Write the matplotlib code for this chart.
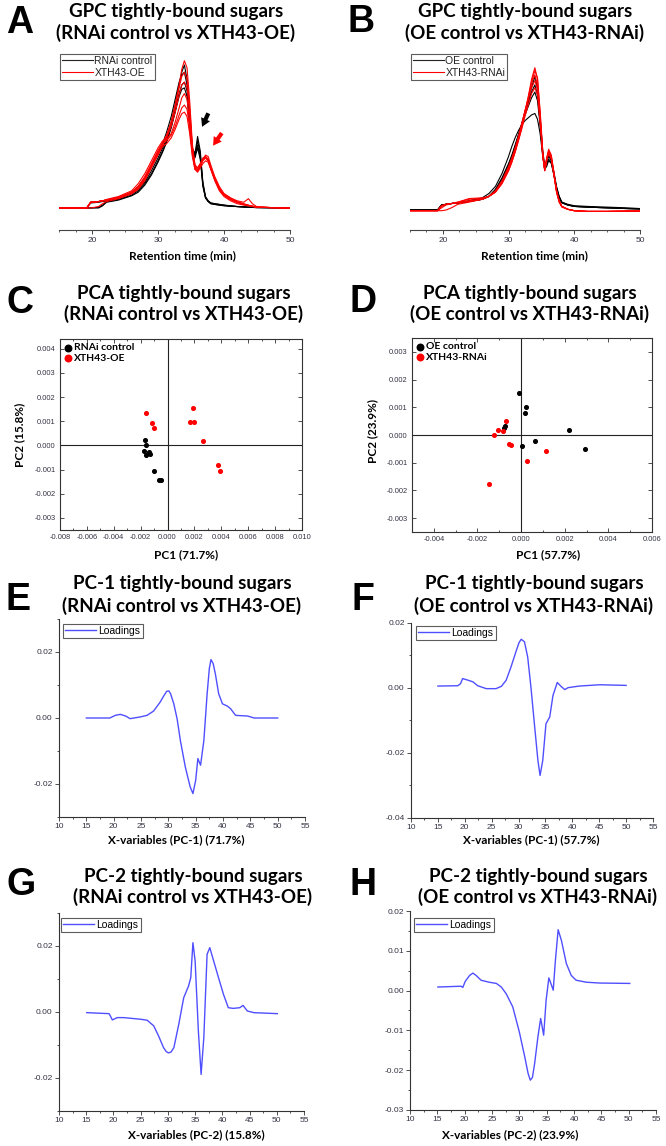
import numpy as np
import matplotlib.pyplot as plt
from matplotlib.ticker import MultipleLocator, FormatStrFormatter

plt.rcParams['axes.unicode_minus'] = False

# ---- GPC traces (normalised detector signal) ----
xA = [15, 19.2, 19.8, 21.0, 21.6, 22.2, 24, 26, 27, 28, 29, 30, 30.7, 31.3, 32, 32.6,
      33.2, 33.6, 34.0, 34.4, 34.8, 35.2, 35.6, 36.0, 36.4, 36.8, 37.2, 37.6, 38.0,
      38.6, 39.3, 40, 41, 42, 43, 43.7, 44.3, 45, 47, 50]
rnai_ctrl = [
    [0, 0, .04, .045, .05, .055, .07, .10, .13, .18, .26, .35, .42, .49, .60, .72, .86, .95, 1.0, .90,
     .65, .42, .38, .50, .40, .18, .08, .05, .035, .03, .025, .02, .015, .01, .008, .005, .004, .003, .002, 0],
    [0, 0, 0, .005, .02, .045, .06, .09, .12, .17, .24, .33, .40, .47, .57, .68, .80, .86, .88, .82,
     .60, .40, .36, .47, .38, .16, .07, .045, .03, .025, .02, .017, .012, .01, .007, .005, .004, .003, .002, 0],
    [0, 0, .035, .04, .045, .05, .07, .11, .15, .21, .29, .38, .45, .53, .64, .76, .88, .93, .95, .86,
     .62, .41, .37, .44, .36, .17, .075, .05, .035, .03, .025, .02, .015, .01, .008, .005, .004, .003, .002, 0],
    [0, 0, 0, 0, .015, .04, .055, .085, .11, .16, .23, .32, .39, .46, .56, .67, .78, .83, .84, .78,
     .58, .39, .35, .42, .34, .15, .07, .045, .03, .025, .02, .015, .012, .01, .007, .005, .004, .003, .002, 0],
]
xth43_oe = [
    [0, 0, .04, .045, .05, .055, .07, .10, .13, .19, .28, .37, .44, .50, .60, .72, .86, .97, 1.03, .98,
     .75, .45, .30, .28, .31, .34, .35, .33, .27, .19, .12, .08, .05, .03, .02, .015, .01, .005, .003, 0],
    [0, 0, .04, .045, .05, .055, .075, .11, .15, .21, .30, .40, .46, .51, .60, .71, .84, .92, .95, .90,
     .70, .43, .29, .27, .30, .34, .36, .34, .28, .20, .13, .09, .06, .04, .025, .018, .012, .006, .003, 0],
    [0, 0, .04, .045, .05, .06, .08, .12, .17, .24, .33, .42, .47, .48, .52, .60, .70, .77, .80, .76,
     .60, .40, .28, .26, .29, .33, .35, .33, .28, .21, .14, .10, .07, .05, .04, .065, .03, .008, .003, 0],
    [0, 0, .04, .045, .05, .055, .075, .11, .15, .22, .31, .40, .45, .47, .51, .57, .65, .70, .72, .69,
     .56, .38, .27, .25, .28, .31, .33, .32, .27, .20, .13, .09, .06, .04, .025, .018, .012, .006, .003, 0],
    [0, 0, 0, .01, .03, .045, .065, .10, .14, .20, .29, .38, .43, .45, .49, .55, .62, .66, .67, .64,
     .52, .36, .27, .26, .29, .34, .37, .36, .30, .22, .15, .10, .07, .045, .03, .02, .013, .006, .003, 0],
    [0, 0, .04, .045, .05, .055, .07, .10, .14, .20, .29, .38, .44, .49, .57, .67, .79, .86, .88, .84,
     .66, .42, .30, .28, .31, .35, .36, .34, .28, .20, .13, .09, .06, .04, .025, .018, .012, .006, .003, 0],
]

xB = [15, 19.2, 19.8, 20.5, 21.3, 22.3, 24, 26, 27, 28, 29, 30, 30.5, 31, 31.5, 32, 32.5, 33,
      33.5, 34.0, 34.4, 34.8, 35.2, 35.5, 35.8, 36.1, 36.5, 36.9, 37.3, 37.7, 38.1, 39, 40,
      42, 45, 48, 50]
oe_ctrl = [
    [.005, .005, .04, .045, .05, .055, .065, .08, .10, .14, .21, .31, .37, .44, .52, .60, .68, .77, .86,
     .94, .85, .65, .42, .31, .35, .39, .36, .27, .17, .10, .06, .04, .03, .025, .02, .015, .012],
    [.005, .005, .04, .045, .05, .055, .07, .09, .12, .17, .26, .38, .45, .51, .56, .60, .63, .65, .67,
     .68, .64, .54, .38, .29, .31, .35, .33, .25, .16, .10, .06, .045, .035, .03, .025, .02, .015],
    [.005, .005, .035, .045, .05, .055, .065, .08, .10, .145, .22, .32, .38, .45, .53, .61, .69, .76, .83,
     .88, .81, .62, .40, .30, .34, .38, .35, .26, .16, .09, .055, .04, .03, .025, .02, .015, .012],
    [.005, .005, .04, .045, .05, .055, .065, .08, .10, .15, .23, .33, .39, .46, .53, .60, .67, .73, .79,
     .83, .77, .60, .39, .29, .33, .36, .34, .25, .15, .09, .055, .04, .03, .025, .02, .015, .012],
]
xth43_rnai = [
    [0, 0, .03, .045, .05, .06, .08, .085, .10, .13, .20, .29, .35, .42, .50, .59, .69, .80, .92,
     1.0, .92, .68, .40, .28, .36, .42, .38, .26, .14, .07, .03, .01, 0, -.005, -.005, -.003, -.003],
    [0, 0, 0, .005, .02, .045, .06, .08, .10, .135, .20, .30, .36, .43, .51, .60, .70, .79, .89,
     .95, .88, .65, .39, .28, .35, .41, .37, .25, .13, .06, .025, .01, 0, -.005, -.005, -.003, -.003],
    [0, 0, .035, .045, .05, .055, .07, .08, .10, .14, .21, .31, .37, .44, .52, .61, .70, .78, .86,
     .91, .85, .64, .39, .29, .36, .41, .37, .26, .14, .07, .03, .01, 0, -.005, -.005, -.003, -.003],
    [0, 0, .035, .045, .05, .055, .065, .08, .10, .13, .19, .28, .34, .41, .49, .57, .66, .74, .82,
     .86, .81, .62, .38, .28, .35, .40, .36, .25, .13, .06, .03, .01, 0, -.005, -.005, -.003, -.003],
    [0, 0, .02, .04, .05, .06, .085, .09, .10, .13, .19, .28, .34, .41, .49, .58, .68, .78, .90,
     .98, .93, .70, .42, .30, .37, .43, .39, .27, .14, .07, .03, .01, 0, -.005, -.005, -.003, -.003],
]

# ---- PCA scores ----
c_ctrl_pc1 = [-0.00166, -0.00159, -0.00174, -0.00159, -0.00141, -0.00129, -0.00104, -0.00067, -0.0005]
c_ctrl_pc2 = [0.00021, 0.00003, -0.00025, -0.00039, -0.00029, -0.00034, -0.00107, -0.00142, -0.00145]
c_oe_pc1 = [-0.00161, -0.00117, -0.00099, 0.00189, 0.00169, 0.00199, 0.00263, 0.00375, 0.00387]
c_oe_pc2 = [0.00134, 0.00092, 0.00072, 0.00154, 0.00095, 0.00095, 0.00018, -0.00083, -0.00107]

d_ctrl_pc1 = [-0.00011, 0.00021, 0.0002, -0.00072, -0.00078, 0.00005, 0.00063, 0.00218, 0.00292]
d_ctrl_pc2 = [0.00152, 0.001, 0.0008, 0.00031, 0.00027, -0.00039, -0.0002, 0.00019, -0.00049]
d_rnai_pc1 = [-0.0007, -0.00104, -0.00084, -0.00124, -0.00055, -0.00047, 0.00027, 0.00116, -0.00147]
d_rnai_pc2 = [0.00051, 0.00019, 0.00016, -0.00001, -0.00031, -0.00035, -0.00093, -0.00057, -0.00177]

# ---- loadings ----
e_x = [15.0, 19.3, 20.3, 21.2, 22.2, 23.0, 24.8, 26.1, 27.3, 28.5, 29.2, 29.7, 30.1, 30.4, 31.0, 31.6,
       32.2, 33.1, 34.0, 34.5, 35.0, 35.4, 35.9, 36.5, 37.1, 37.5, 37.8, 38.2, 38.6, 39.2, 39.9,
       40.8, 41.4, 42.3, 44.5, 45.7, 50.0]
e_y = [0.0, 0.0, 0.0008, 0.0011, 0.0006, -0.0002, 0.0003, 0.0008, 0.0021, 0.0048, 0.0068, 0.0081,
       0.0082, 0.0074, 0.0043, -0.0002, -0.0068, -0.0148, -0.0209, -0.0229, -0.0189, -0.0123,
       -0.0143, -0.0068, 0.0074, 0.0150, 0.0177, 0.0165, 0.0134, 0.0074, 0.0043, 0.0036, 0.0028,
       0.0008, 0.0006, 0.0, 0.0]
f_x = [15.0, 18.7, 19.2, 19.6, 20.6, 21.5, 22.4, 24.0, 25.8, 26.8, 27.7, 28.6, 29.6, 30.1, 30.5,
       31.1, 31.7, 32.3, 33.0, 33.6, 34.0, 34.5, 35.1, 35.8, 36.4, 37.2, 37.9, 38.6, 39.2, 41.3,
       45.1, 50.0]
f_y = [0.0006, 0.0007, 0.0013, 0.0029, 0.0024, 0.0019, 0.0007, -0.0002, -0.0002, 0.0005, 0.0024,
       0.0065, 0.0116, 0.0140, 0.015, 0.0142, 0.0095, 0.0003, -0.012, -0.0223, -0.0269, -0.0223,
       -0.011, -0.0089, -0.0023, 0.0017, 0.0005, -0.0005, 0.0001, 0.0006, 0.001, 0.0008]
g_x = [15.1, 19.2, 19.8, 20.7, 21.9, 25.0, 26.2, 27.4, 28.3, 29.2, 29.7, 30.1, 30.6, 31.1, 32.0,
       32.9, 33.8, 34.2, 34.6, 35.0, 35.6, 36.1, 36.6, 37.2, 37.7, 38.4, 39.3, 40.2, 41.1, 42.0,
       43.2, 43.8, 44.6, 45.8, 50.1]
g_y = [-0.0002, -0.0005, -0.0024, -0.0017, -0.0017, -0.0022, -0.0025, -0.0042, -0.0073, -0.0108,
       -0.0120, -0.0124, -0.0121, -0.0108, -0.0037, 0.0043, 0.0079, 0.0104, 0.021, 0.0155, -0.0058,
       -0.0189, -0.0078, 0.0175, 0.0195, 0.0155, 0.0104, 0.0054, 0.0013, 0.0011, 0.0013, 0.002,
       0.0003, -0.0002, -0.0005]
h_x = [15.1, 19.35, 19.66, 20.1, 20.9, 21.5, 22.1, 23.0, 24.5, 25.8, 26.7, 27.6, 28.8, 30.0, 31.0,
       31.6, 32.0, 32.4, 32.8, 33.4, 33.9, 34.45, 34.9, 35.4, 35.9, 36.2, 36.6, 37.1, 37.7, 38.6,
       39.5, 40.4, 42.3, 44.7, 50.2]
h_y = [0.0009, 0.0011, 0.0008, 0.0023, 0.0038, 0.0044, 0.0038, 0.0026, 0.0021, 0.0018, 0.0009,
       -0.0008, -0.0041, -0.0104, -0.0167, -0.0208, -0.0225, -0.0218, -0.0183, -0.0116, -0.007,
       -0.0112, -0.0024, 0.0032, 0.0013, 0.0001, 0.0076, 0.0153, 0.0126, 0.0068, 0.0038, 0.0026,
       0.0021, 0.0019, 0.0018]

W, H = 666, 1146
fig = plt.figure(figsize=(W / 100, H / 100), dpi=100)

TFONT = 'Lato'
TICKC = '#333344'
BLUE = '#4f4fff'


def px_axes(l, t, r, b):
    return fig.add_axes([l / W, 1 - b / H, (r - l) / W, (b - t) / H])


def ftext(x, y, s, **kw):
    fig.text(x / W, 1 - y / H, s, **kw)


def header(letter, lx, ly, x, y1, y2, line1, line2):
    ftext(lx, ly, letter, fontsize=27, fontweight='bold', family='Liberation Sans', va='baseline')
    ftext(x, y1, line1, fontsize=13.5, fontweight='bold', family=TFONT, ha='center', va='baseline')
    ftext(x, y2, line2, fontsize=13.5, fontweight='bold', family=TFONT, ha='center', va='baseline')


def xlabel(x, y, s):
    ftext(x, y, s, fontsize=8.5, fontweight='bold', family=TFONT, ha='center', va='baseline')


def legend_at(ax, px_x, px_y, rect, **kw):
    l, t, r, b = rect
    return ax.legend(loc='upper left', bbox_to_anchor=((px_x - l) / (r - l), (b - px_y) / (b - t)),
                     borderaxespad=0, **kw)


def style_ticks(ax):
    for lab in ax.get_xticklabels() + ax.get_yticklabels():
        lab.set_family('Liberation Sans')
        lab.set_color(TICKC)


# ---- A / B: GPC traces ----
def gpc_panel(rect, x, ctrl, trt, ylim, names, arrows=False):
    ax = px_axes(*rect)
    for y in ctrl:
        ax.plot(x, y, color='black', lw=0.8)
    for y in trt:
        ax.plot(x, y, color='red', lw=0.8)
    ax.plot([], [], color='#222222', lw=0.8, label=names[0])
    ax.plot([], [], color='red', lw=0.8, label=names[1])
    ax.set_xlim(15, 50)
    ax.set_ylim(*ylim)
    for s in ['top', 'right', 'left']:
        ax.spines[s].set_visible(False)
    ax.spines['bottom'].set_color('#444444')
    ax.spines['bottom'].set_linewidth(0.8)
    ax.set_yticks([])
    ax.xaxis.set_major_locator(MultipleLocator(10))
    ax.xaxis.set_minor_locator(MultipleLocator(2.5))
    ax.tick_params(axis='x', which='major', length=3, width=0.7, labelsize=6, pad=2, color='#444444')
    ax.tick_params(axis='x', which='minor', length=1.5, width=0.6, color='#444444')
    style_ticks(ax)
    leg = legend_at(ax, rect[0] + 1, rect[1] + 2, rect, fontsize=7.5, frameon=True, fancybox=False,
                    handlelength=3.0, handletextpad=0.1, borderpad=0.2, labelspacing=0.15)
    leg.get_frame().set_edgecolor('#333333')
    leg.get_frame().set_linewidth(0.8)
    for t in leg.get_texts():
        t.set_family('Liberation Sans')
        t.set_color('#222222')
    if arrows:
        ax.annotate('', xy=(36.5, 0.55), xytext=(37.8, 0.68),
                    arrowprops=dict(arrowstyle='simple,head_length=0.6,head_width=0.7,tail_width=0.3',
                                    color='black', lw=0))
        ax.annotate('', xy=(38.1, 0.42), xytext=(39.9, 0.54),
                    arrowprops=dict(arrowstyle='simple,head_length=0.6,head_width=0.7,tail_width=0.3',
                                    color='red', lw=0))
    return ax


gpc_panel((59, 52, 290, 230), xA, rnai_ctrl, xth43_oe, (-0.154, 1.091), ['RNAi control', 'XTH43-OE'], True)
gpc_panel((410, 52, 640, 230), xB, oe_ctrl, xth43_rnai, (-0.135, 1.11), ['OE control', 'XTH43-RNAi'])
header('A', 6, 33, 176, 17.5, 39, 'GPC tightly-bound sugars', '(RNAi control vs XTH43-OE)')
header('B', 347, 32, 525, 17.5, 39, 'GPC tightly-bound sugars', '(OE control vs XTH43-RNAi)')
xlabel(182, 259, 'Retention time (min)')
xlabel(534, 259, 'Retention time (min)')


# ---- C / D: PCA score plots ----
def pca_panel(rect, xs1, ys1, xs2, ys2, xlim, ylim, names):
    ax = px_axes(*rect)
    ax.axhline(0, color='#222222', lw=0.8)
    ax.axvline(0, color='#222222', lw=0.8)
    ax.scatter(xs1, ys1, s=7, color='black', zorder=3)
    ax.scatter(xs2, ys2, s=7, color='red', zorder=3)
    ax.scatter([], [], s=22, color='black', label=names[0])
    ax.scatter([], [], s=22, color='red', label=names[1])
    ax.set_xlim(*xlim)
    ax.set_ylim(*ylim)
    ax.xaxis.set_major_locator(MultipleLocator(0.002))
    ax.xaxis.set_minor_locator(MultipleLocator(0.001))
    ax.yaxis.set_major_locator(MultipleLocator(0.001))
    ax.xaxis.set_major_formatter(FormatStrFormatter('%.3f'))
    ax.yaxis.set_major_formatter(FormatStrFormatter('%.3f'))
    for s in ax.spines.values():
        s.set_linewidth(0.8)
        s.set_color('#333333')
    ax.tick_params(which='both', direction='in', top=True, right=True, width=0.6, color='#333333')
    ax.tick_params(which='major', length=3, labelsize=5.4, pad=3)
    ax.tick_params(which='minor', length=1.5)
    style_ticks(ax)
    leg = legend_at(ax, rect[0] + 4, rect[1] + 4, rect, fontsize=7.5, frameon=False,
                    handletextpad=0.2, borderpad=0, labelspacing=0.1, handlelength=0.8)
    for t in leg.get_texts():
        t.set_family(TFONT)
        t.set_fontweight('bold')
    return ax


pca_panel((60, 339, 302, 530), c_ctrl_pc1, c_ctrl_pc2, c_oe_pc1, c_oe_pc2,
          (-0.008, 0.010), (-0.0035, 0.0044), ['RNAi control', 'XTH43-OE'])
pca_panel((412, 338, 652, 532), d_ctrl_pc1, d_ctrl_pc2, d_rnai_pc1, d_rnai_pc2,
          (-0.005, 0.006), (-0.0035, 0.0035), ['OE control', 'XTH43-RNAi'])
header('C', 6, 313, 184, 299, 320, 'PCA tightly-bound sugars', '(RNAi control vs XTH43-OE)')
header('D', 349, 312, 530, 299, 320, 'PCA tightly-bound sugars', '(OE control vs XTH43-RNAi)')
xlabel(186, 558, 'PC1 (71.7%)')
xlabel(548, 558, 'PC1 (57.7%)')
ftext(20, 435, 'PC2 (15.8%)', fontsize=8.5, fontweight='bold', family=TFONT, ha='center', va='center', rotation=90)
ftext(373, 431, 'PC2 (23.9%)', fontsize=8.5, fontweight='bold', family=TFONT, ha='center', va='center', rotation=90)


# ---- E-H: loadings ----
def load_panel(rect, x, y, ylim, ystep, leg_xy):
    ax = px_axes(*rect)
    ax.plot(x, y, color=BLUE, lw=1.0, label='Loadings')
    ax.set_xlim(10, 55)
    ax.set_ylim(*ylim)
    ax.spines['top'].set_visible(False)
    ax.spines['right'].set_visible(False)
    for s in ['left', 'bottom']:
        ax.spines[s].set_linewidth(0.8)
        ax.spines[s].set_color('#333333')
    ax.xaxis.set_major_locator(MultipleLocator(5))
    ax.xaxis.set_minor_locator(MultipleLocator(2.5))
    ax.yaxis.set_major_locator(MultipleLocator(ystep))
    ax.yaxis.set_minor_locator(MultipleLocator(ystep / 2))
    ax.yaxis.set_major_formatter(FormatStrFormatter('%.2f'))
    ax.tick_params(which='both', direction='out', width=0.6, color='#333333')
    ax.tick_params(which='major', length=3, labelsize=6, pad=1.5)
    ax.tick_params(which='minor', length=1.5)
    style_ticks(ax)
    leg = legend_at(ax, leg_xy[0], leg_xy[1], rect, fontsize=7.5, frameon=True, fancybox=False,
                    handlelength=3.0, handletextpad=0.2, borderpad=0.2)
    leg.get_frame().set_edgecolor('#333333')
    leg.get_frame().set_linewidth(0.8)
    for t in leg.get_texts():
        t.set_family('Liberation Sans')
    return ax


load_panel((59, 619, 305, 817), e_x, e_y, (-0.03, 0.03), 0.02, (63, 624))
load_panel((411, 623, 653, 818), f_x, f_y, (-0.04, 0.02), 0.02, (416, 626))
load_panel((59, 913, 304, 1111), g_x, g_y, (-0.03, 0.03), 0.02, (61, 918))
load_panel((410, 911, 656, 1110), h_x, h_y, (-0.03, 0.02), 0.01, (414, 918))
header('E', 5, 610, 182, 589, 612, 'PC-1 tightly-bound sugars', '(RNAi control vs XTH43-OE)')
header('F', 352, 610, 534, 589, 612, 'PC-1 tightly-bound sugars', '(OE control vs XTH43-RNAi)')
header('G', 6, 895, 193, 882, 903, 'PC-2 tightly-bound sugars', '(RNAi control vs XTH43-OE)')
header('H', 349, 895, 538, 882, 903, 'PC-2 tightly-bound sugars', '(OE control vs XTH43-RNAi)')
xlabel(176, 843, 'X-variables (PC-1) (71.7%)')
xlabel(531, 843, 'X-variables (PC-1) (57.7%)')
xlabel(196, 1138, 'X-variables (PC-2) (15.8%)')
xlabel(510, 1138, 'X-variables (PC-2) (23.9%)')

fig.savefig('out.png', dpi=100, facecolor='white')
